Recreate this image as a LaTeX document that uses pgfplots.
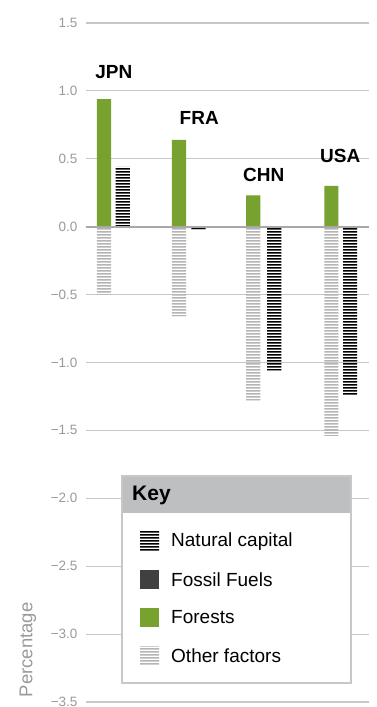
\documentclass[border=0pt]{standalone}
\usepackage{fontspec}
\setmainfont{Liberation Sans}
\usepackage{pgfplots}
\usepackage{pgfplotstable}
\pgfplotsset{compat=1.18}
\usetikzlibrary{patterns}
\definecolor{forest}{HTML}{77A22F}
\definecolor{fossil}{HTML}{404040}
\definecolor{othergray}{HTML}{B4B4B4}
\definecolor{gridgray}{HTML}{C8C8C8}
\definecolor{zerogray}{HTML}{A8A8A8}
\definecolor{ticktext}{HTML}{9A9A9A}
\definecolor{keyhead}{HTML}{BEBFC1}
\definecolor{keyborder}{HTML}{C8C8C8}

% wide tiles of horizontal stripes (avoid seams inside narrow bars)
\pgfdeclarepatternformonly{hstripeblack}{\pgfpoint{0pt}{0pt}}{\pgfpoint{200pt}{3pt}}{\pgfpoint{200pt}{3pt}}{%
  \pgfpathrectangle{\pgfpoint{-1pt}{0.6pt}}{\pgfpoint{202pt}{1.8pt}}\pgfusepath{fill}}
\pgfdeclarepatternformonly{hstripegray}{\pgfpoint{0pt}{0pt}}{\pgfpoint{200pt}{3pt}}{\pgfpoint{200pt}{3pt}}{%
  \pgfpathrectangle{\pgfpoint{-1pt}{0.5pt}}{\pgfpoint{202pt}{2pt}}\pgfusepath{fill}}

% group, x of forests/other bar, x of natural-capital bar, values (percent)
\pgfplotstableread{
group xg   xn   forests natcap fossil other
JPN   0.00 0.25 0.94    0.44   0      -0.50
FRA   1.00 1.26 0.64    -0.02  0      -0.66
CHN   1.99 2.27 0.23    -1.06  0      -1.28
USA   3.03 3.28 0.30    -1.24  0      -1.54
}\datatable

\begin{document}
\begin{tikzpicture}
\begin{axis}[
  at={(0,0)}, anchor=south west,
  scale only axis, width=283pt, height=679pt,
  xmin=-0.24, xmax=3.5333,
  ymin=-3.5, ymax=1.5,
  axis line style={draw=none},
  xtick=\empty,
  ytick={-3.5,-3,-2.5,-2,-1.5,-1,-0.5,0,0.5,1,1.5},
  yticklabels={−3.5,−3.0,−2.5,−2.0,−1.5,−1.0,−0.5,0.0,0.5,1.0,1.5},
  major tick length=0pt,
  yticklabel style={font=\fontsize{13.5}{13.5}\selectfont, text=ticktext, anchor=east, xshift=-5pt},
  ymajorgrids,
  grid style={color=gridgray, line width=1.1pt},
  clip=false,
]
\addplot[ybar, bar width=0.1867, bar shift=0pt, fill=forest, draw=none]
  table[x=xg, y=forests] {\datatable};
\addplot[ybar, bar width=0.1867, bar shift=0pt, draw=none,
  pattern=hstripegray, pattern color=othergray]
  table[x=xg, y=other] {\datatable};
\addplot[ybar, bar width=0.1867, bar shift=0pt, draw=none,
  pattern=hstripeblack, pattern color=black]
  table[x=xn, y=natcap] {\datatable};
\draw[zerogray, line width=2pt] (axis cs:-0.24,0) -- (axis cs:3.5333,0);
\node[font=\bfseries\fontsize{19}{19}\selectfont] at (axis cs:0.13,1.14) {JPN};
\node[font=\bfseries\fontsize{19}{19}\selectfont] at (axis cs:1.27,0.80) {FRA};
\node[font=\bfseries\fontsize{19}{19}\selectfont] at (axis cs:2.13,0.38) {CHN};
\node[font=\bfseries\fontsize{19}{19}\selectfont] at (axis cs:3.15,0.52) {USA};
\end{axis}
% Key
\fill[white] (36pt,19pt) rectangle (265pt,226pt);
\fill[keyhead] (36pt,189pt) rectangle (265pt,226pt);
\draw[keyborder, line width=1.2pt] (36pt,19pt) rectangle (265pt,226pt);
\node[anchor=west, inner sep=0pt, font=\bfseries\fontsize{21}{21}\selectfont] at (46pt,207pt) {Key};
\fill[pattern=hstripeblack, pattern color=black] (54pt,150pt) rectangle (73pt,170pt);
\fill[fossil] (54pt,113pt) rectangle (73pt,132pt);
\fill[forest] (54pt,75pt) rectangle (73pt,94pt);
\fill[pattern=hstripegray, pattern color=othergray] (54pt,37pt) rectangle (73pt,55pt);
\node[anchor=west, inner sep=0pt, font=\fontsize{19}{19}\selectfont] at (85pt,160pt) {Natural capital};
\node[anchor=west, inner sep=0pt, font=\fontsize{19}{19}\selectfont] at (85pt,122.5pt) {Fossil Fuels};
\node[anchor=west, inner sep=0pt, font=\fontsize{19}{19}\selectfont] at (85pt,84.5pt) {Forests};
\node[anchor=west, inner sep=0pt, font=\fontsize{19}{19}\selectfont] at (85pt,46pt) {Other factors};
\node[rotate=90, text=ticktext, font=\fontsize{18.5}{18.5}\selectfont] at (-58pt,52pt) {Percentage};
\pgfresetboundingbox
\useasboundingbox (-86pt,-5pt) rectangle (290pt,702pt);
\end{tikzpicture}
\end{document}
